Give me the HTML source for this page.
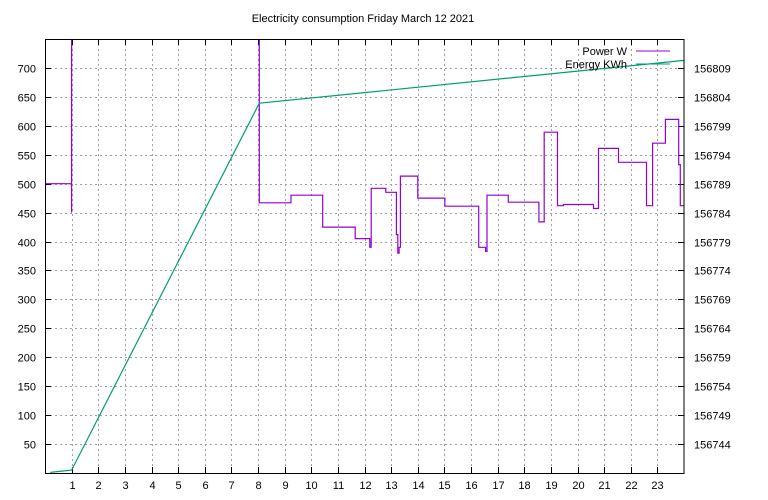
<!DOCTYPE html>
<html><head><meta charset="utf-8"><style>
html,body{margin:0;padding:0;background:#fff;}
svg{display:block;font-family:"Liberation Sans",sans-serif;}
</style></head><body>
<svg id="chart" width="768" height="500" viewBox="0 0 768 500" xmlns="http://www.w3.org/2000/svg">
<text x="363" y="22" font-size="11" text-anchor="middle">Electricity consumption Friday March 12 2021</text>
<g id="grid"></g>
<g id="ticks"></g>
<defs><clipPath id="clip"><rect x="45" y="39" width="639" height="434"/></clipPath></defs>
<g id="series" clip-path="url(#clip)"></g>
<rect x="45.5" y="39.5" width="638.5" height="434" fill="none" stroke="#000" stroke-width="1"/>
<g font-size="11">
<text x="627" y="55" text-anchor="end">Power W</text>
<line x1="636" y1="51" x2="670" y2="51" stroke="#9400d3" stroke-width="1"/>
<text x="627" y="68" text-anchor="end">Energy KWh</text>
<line x1="636" y1="64" x2="670" y2="64" stroke="#009e73" stroke-width="1"/>
</g>
</svg>
<script>
const xTicks=[1,2,3,4,5,6,7,8,9,10,11,12,13,14,15,16,17,18,19,20,21,22,23];
const yTicks=[50,100,150,200,250,300,350,400,450,500,550,600,650,700];
const y2Ticks=[156744,156749,156754,156759,156764,156769,156774,156779,156784,156789,156794,156799,156804,156809];
const powerTimes=[0,1,1,8.05,9.24,10.43,11.65,12.2,12.25,12.8,13.2,13.25,13.3,13.35,14.0,15.02,16.29,16.55,16.6,17.4,18.55,18.75,19.25,19.47,20.6,20.79,21.54,22.59,22.82,23.3,23.8,23.86,24];
const powerValues=[500,450,9100,467,480,425,405,390,492,485,412,380,390,513,475,461,390,383,480,468,434,589,462,464,457,561,537,462,570,611,533,462,462];
const energyTimes=[0.2,1,8.05,24];
const energyValues=[156739.1,156739.5,156802.9,156810.3];
const L=45,R=684,T=39,B=473,XMIN=0,XMAX=24,YMAX=750,Y2MIN=156739;
const sx=v=>L+(v-XMIN)/(XMAX-XMIN)*(R-L);
const sy=v=>B-v/YMAX*(B-T);
const sy2=v=>sy((v-Y2MIN)*10);
const NS="http://www.w3.org/2000/svg";
const mk=(t,a,p)=>{const e=document.createElementNS(NS,t);for(const k in a)e.setAttribute(k,a[k]);p.appendChild(e);return e;};
const grid=document.getElementById('grid'),ticks=document.getElementById('ticks'),series=document.getElementById('series');
xTicks.forEach(v=>{const x=Math.round(sx(v))+0.5;
 const g=mk('line',{x1:x,y1:T,x2:x,y2:B,stroke:'#a0a0a0','stroke-dasharray':'2,3'},grid);
 
 
 const tk=mk('path',{d:`M${x},${B}v-6M${x},${T}v6`,stroke:'#000'},ticks);
 
 
 const t=mk('text',{x:x,y:B+16,'font-size':11,'text-anchor':'middle'},ticks);t.textContent=v;
 
 
});
yTicks.forEach(v=>{const y=Math.round(sy(v))+0.5;
 const g=mk('line',{x1:L,y1:y,x2:R,y2:y,stroke:'#a0a0a0','stroke-dasharray':'2,3'},grid);
 
 
 const tk=mk('path',{d:`M${L},${y}h6`,stroke:'#000'},ticks);
 
 
 const t=mk('text',{x:L-9,y:y+4,'font-size':11,'text-anchor':'end'},ticks);t.textContent=v;
 
 
});
y2Ticks.forEach(v=>{const y=Math.round(sy2(v))+0.5;
 const tk=mk('path',{d:`M${R},${y}h-6`,stroke:'#000'},ticks);
 
 
 const t=mk('text',{x:R+10,y:y+4,'font-size':11},ticks);t.textContent=v;
 
 
});
let d='';
for(let i=0;i<powerTimes.length;i++){
 const x=sx(powerTimes[i]).toFixed(1),y=sy(powerValues[i]).toFixed(1);
 if(i===0)d+=`M${x},${y}`;else d+=`H${x}V${y}`;
}
const pp=mk('path',{d:d,fill:'none',stroke:'#9400d3','stroke-width':1.2},series);


const ep=mk('polyline',{points:energyTimes.map((t,i)=>sx(t).toFixed(1)+','+sy2(energyValues[i]).toFixed(1)).join(' '),fill:'none',stroke:'#009e73','stroke-width':1.2},series);


</script>
</body></html>
